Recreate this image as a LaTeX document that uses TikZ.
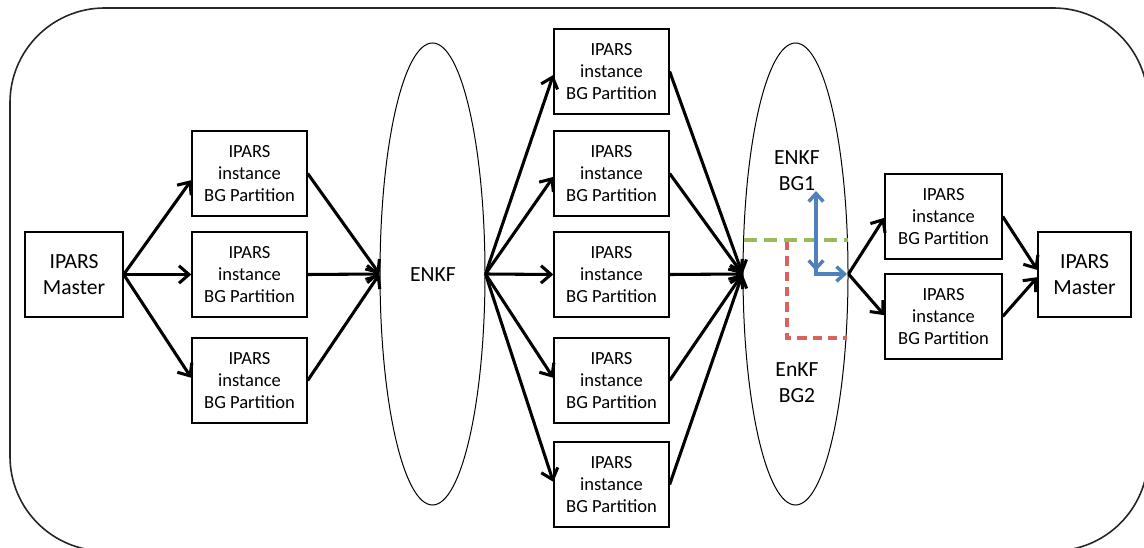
\documentclass[tikz,border=0pt]{standalone}
\usepackage{fontspec}
\setmainfont{Carlito}
\usetikzlibrary{arrows.meta,calc,shapes.geometric}
\definecolor{bgreen}{HTML}{9BBB59}
\definecolor{bred}{HTML}{D9625E}
\definecolor{bblue}{HTML}{4F81BD}
\tikzset{
  box/.style={draw, line width=1pt, fill=white, inner sep=0pt, align=center,
    minimum height=63.75pt, font=\fontsize{13.9}{16.5}\selectfont},
  ibox/.style={box, minimum width=86.25pt},
  mbox/.style={box, font=\fontsize{16.2}{20}\selectfont},
  oval/.style={draw, ellipse, line width=0.75pt, inner sep=0pt,
    minimum width=78.75pt, minimum height=346.5pt},
  conn/.style={line width=2.3pt, -{Straight Barb[length=7.5pt,width=13pt,line width=2.3pt]}},
  gdash/.style={bgreen, line width=3.6pt, dash pattern=on 10pt off 5pt},
  rdash/.style={bred, line width=2.4pt, dash pattern=on 7pt off 4.5pt},
  barrow/.style={bblue, line width=2.6pt, {Straight Barb[length=6pt,width=11pt,line width=2.6pt]}-{Straight Barb[length=6pt,width=11pt,line width=2.6pt]}},
  barrowone/.style={bblue, line width=2.6pt, -{Straight Barb[length=6pt,width=11pt,line width=2.6pt]}},
  lbl/.style={align=center, inner sep=0pt, font=\fontsize{16.2}{19.5}\selectfont}
}
\begin{document}
\begin{tikzpicture}[x=0.75pt,y=-0.75pt]
\useasboundingbox (0,0) rectangle (1144,548);
\begin{scope}
\clip (0,0) rectangle (1144,548);
\draw[black!85, line width=1.2pt, rounded corners=71pt] (10,8) rectangle (1148,551);
\end{scope}

% nodes
\node[mbox, minimum width=73.5pt] (ML) at (74,274.5) {IPARS\\Master};
\node[ibox] (L1) at (249.5,173.5) {IPARS\\instance\\BG Partition};
\node[ibox] (L2) at (249.5,274.5) {IPARS\\instance\\BG Partition};
\node[ibox] (L3) at (249.5,380.5) {IPARS\\instance\\BG Partition};
\node[oval] (E1) at (432.5,274) {};
\node[lbl] (E1t) at (433,275) {ENKF};
\node[ibox] (M1) at (611.5,71.5) {IPARS\\instance\\BG Partition};
\node[ibox] (M2) at (611.5,173.5) {IPARS\\instance\\BG Partition};
\node[ibox] (M3) at (611.5,274.5) {IPARS\\instance\\BG Partition};
\node[ibox] (M4) at (611.5,380.5) {IPARS\\instance\\BG Partition};
\node[ibox] (M5) at (611.5,484.5) {IPARS\\instance\\BG Partition};
\node[oval] (E2) at (795.5,274) {};
\node[lbl] (E2a) at (797,171) {ENKF\\BG1};
\node[lbl] (E2b) at (797,383) {EnKF\\BG2};
\node[box, minimum width=87.75pt] (R1) at (943.5,216.5) {IPARS\\instance\\BG Partition};
\node[box, minimum width=87.75pt] (R2) at (943.5,316.5) {IPARS\\instance\\BG Partition};
\node[mbox, minimum width=69.75pt] (MR) at (1084.5,274.5) {IPARS\\Master};

% connectors
\draw[conn] (ML.east) -- ([yshift=-5pt]L1.west);
\draw[conn] (ML.east) -- (L2.west);
\draw[conn] (ML.east) -- ([yshift=2pt]L3.west);
\draw[conn] (L1.east) -- (E1.west);
\draw[conn] (L2.east) -- (E1.west);
\draw[conn] (L3.east) -- (E1.west);
\draw[conn] (E1.east) -- ([yshift=-2.6pt]M1.west);
\draw[conn] (E1.east) -- ([yshift=-2.6pt]M2.west);
\draw[conn] (E1.east) -- (M3.west);
\draw[conn] (E1.east) -- ([yshift=2pt]M4.west);
\draw[conn] (E1.east) -- ([yshift=2pt]M5.west);
\draw[conn] (M1.east) -- (E2.west);
\draw[conn] (M2.east) -- (E2.west);
\draw[conn] (M3.east) -- (E2.west);
\draw[conn] (M4.east) -- (E2.west);
\draw[conn] (M5.east) -- (E2.west);
\draw[conn] (E2.east) -- ([yshift=-1pt]R1.west);
\draw[conn] (E2.east) -- ([yshift=1pt]R2.west);
\draw[conn] (R1.east) -- ([yshift=3.4pt]MR.west);
\draw[conn] (R2.east) -- ([yshift=-2pt]MR.west);

% partition lines inside ENKF BG ellipse
\coordinate (g1) at (744,240);
\coordinate (g2) at (848,240);
\coordinate (r1) at (787,241);
\coordinate (r2) at (847,338);
\draw[rdash] (r1) |- (r2);
\draw[gdash] (g1) -- (g2);
\coordinate (b1) at (816,191);
\coordinate (b2) at (816,271);
\coordinate (b3) at (816,262);
\coordinate (b4) at (847,274);
\draw[barrow] (b1) -- (b2);
\draw[barrowone] (b3) |- (b4);
\end{tikzpicture}
\end{document}
